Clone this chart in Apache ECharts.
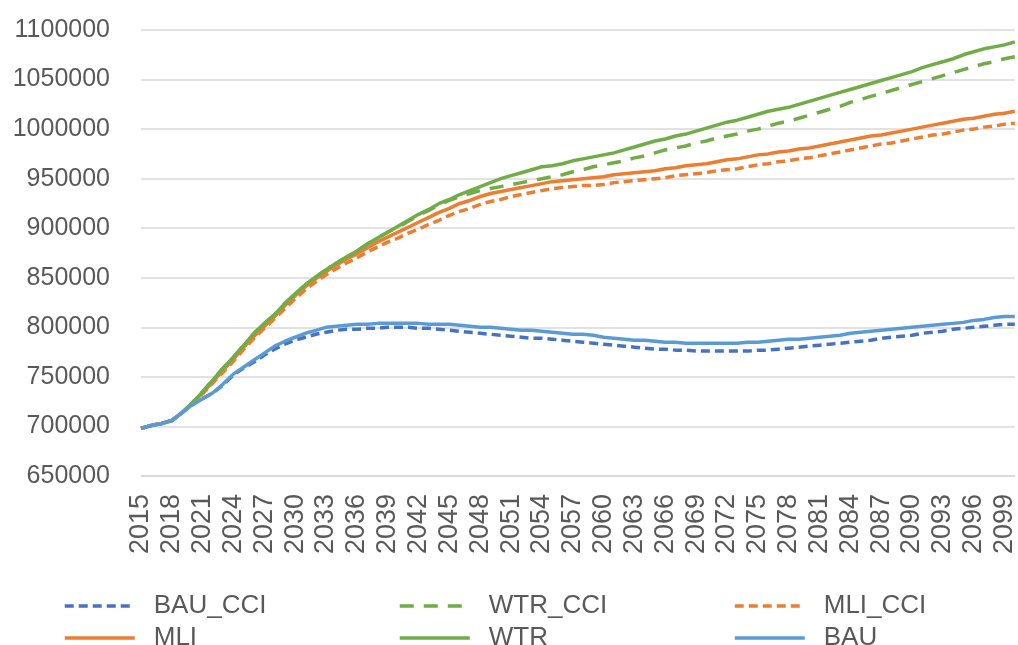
<!DOCTYPE html>
<html>
<head>
<meta charset="utf-8">
<script src="https://cdn.jsdelivr.net/npm/echarts@6/dist/echarts.min.js"></script>
<style>html,body{margin:0;padding:0;background:#fff;}#c{width:1018px;height:645px;}</style>
</head>
<body>
<div id="c"></div>
<script>
const years = [];
for (let y = 2015; y <= 2100; y++) years.push(String(y));

const yTicks = { min: 650000, max: 1100000, interval: 50000 };

const BAU_CCI = [698000,701000,703000,706000,714000,722000,728000,734000,742000,752000,
759000,765000,772000,778000,783000,787000,790000,793000,795000,797000,
798000,798000,799000,799000,800000,800000,800000,799000,799000,798000,
797000,796000,795000,794000,793000,792000,791000,790000,789000,789000,
788000,787000,786000,785000,784000,783000,782000,781000,780000,779000,
778000,778000,777000,777000,776000,776000,776000,776000,776000,776000,
777000,777000,778000,779000,780000,781000,782000,783000,784000,785000,
786000,787000,789000,790000,791000,792000,794000,795000,796000,798000,
799000,800000,801000,802000,803000,803000];

const WTR_CCI = [698000,701000,703000,706000,714000,724000,735000,747000,759000,770000,
782000,794000,804000,813000,824000,834000,843000,851000,858000,865000,
871000,877000,884000,890000,896000,901000,907000,913000,918000,924000,
928000,932000,935000,938000,940000,942000,944000,946000,948000,950000,
952000,954000,957000,959000,962000,964000,966000,968000,971000,973000,
976000,979000,981000,983000,986000,988000,991000,993000,995000,998000,
1000000,1003000,1006000,1008000,1011000,1014000,1017000,1020000,1023000,1027000,
1030000,1033000,1036000,1039000,1042000,1045000,1048000,1051000,1054000,1057000,
1060000,1063000,1066000,1068000,1071000,1073000];

const MLI_CCI = [698000,701000,703000,706000,714000,723000,733000,744000,755000,766000,
778000,789000,799000,809000,819000,829000,838000,846000,853000,859000,
865000,870000,876000,881000,886000,890000,895000,899000,904000,908000,
913000,917000,920000,924000,927000,929000,932000,934000,936000,938000,
940000,941000,942000,943000,943000,944000,946000,947000,948000,949000,
950000,951000,953000,954000,955000,956000,958000,959000,960000,962000,
964000,965000,967000,968000,970000,971000,973000,975000,977000,979000,
981000,983000,985000,986000,988000,990000,992000,994000,995000,997000,
999000,1000000,1002000,1003000,1005000,1006000];

const MLI = [698000,701000,703000,706000,714000,723000,734000,745000,757000,768000,
780000,791000,801000,811000,822000,832000,841000,849000,856000,863000,
869000,874000,880000,886000,891000,896000,901000,906000,911000,916000,
920000,925000,928000,932000,935000,937000,939000,941000,943000,945000,
947000,948000,949000,950000,951000,952000,954000,955000,956000,957000,
958000,960000,961000,963000,964000,965000,967000,969000,970000,972000,
974000,975000,977000,978000,980000,981000,983000,985000,987000,989000,
991000,993000,994000,996000,998000,1000000,1002000,1004000,1006000,1008000,
1010000,1011000,1013000,1015000,1016000,1018000];

const WTR = [698000,701000,703000,706000,714000,724000,735000,747000,759000,770000,
782000,794000,804000,813000,824000,834000,843000,851000,858000,865000,
871000,877000,884000,890000,896000,902000,908000,914000,919000,925000,
929000,934000,938000,942000,946000,950000,953000,956000,959000,962000,
963000,965000,968000,970000,972000,974000,976000,979000,982000,985000,
988000,990000,993000,995000,998000,1001000,1004000,1007000,1009000,1012000,
1015000,1018000,1020000,1022000,1025000,1028000,1031000,1034000,1037000,1040000,
1043000,1046000,1049000,1052000,1055000,1058000,1062000,1065000,1068000,1071000,
1075000,1078000,1081000,1083000,1085000,1088000];

const BAU = [698000,701000,703000,706000,714000,722000,728000,734000,743000,753000,
760000,767000,774000,781000,786000,790000,794000,797000,800000,801000,
802000,803000,803000,804000,804000,804000,804000,804000,803000,803000,
803000,802000,801000,800000,800000,799000,798000,797000,797000,796000,
795000,794000,793000,793000,792000,790000,789000,788000,787000,787000,
786000,785000,785000,784000,784000,784000,784000,784000,784000,785000,
785000,786000,787000,788000,788000,789000,790000,791000,792000,794000,
795000,796000,797000,798000,799000,800000,801000,802000,803000,804000,
805000,807000,808000,810000,811000,811000];

const seriesNames = ['BAU_CCI','WTR_CCI','MLI_CCI','MLI','WTR','BAU'];
const seriesData = [BAU_CCI, WTR_CCI, MLI_CCI, MLI, WTR, BAU];
const colors = ['#4472C4','#70AD47','#ED7D31','#ED7D31','#70AD47','#5B9BD5'];
const dashes = [[9,5],[14,10],[9,5],'solid','solid','solid'];

const FONT = '"Liberation Sans", Arial, sans-serif';
const TXT = '#595959';

const chart = echarts.init(document.getElementById('c'), null, {renderer:'canvas'});

function legendCol(names, left) {
  return {
    orient: 'vertical',
    left: left,
    top: 593,
    height: 80,
    padding: 0,
    itemWidth: 70,
    itemHeight: 14,
    itemGap: 6,
    data: names,
    itemStyle: { opacity: 0, borderWidth: 0 },
    lineStyle: { width: 3.5 },
    textStyle: { fontFamily: FONT, fontSize: 26, lineHeight: 26, color: TXT, padding: [0,0,0,14] }
  };
}

chart.setOption({
  animation: false,
  backgroundColor: '#ffffff',
  grid: { left: 141, right: 2, top: 30, bottom: 169, containLabel: false },
  legend: [
    legendCol(['BAU_CCI','MLI'], 63),
    legendCol(['WTR_CCI','WTR'], 398),
    legendCol(['MLI_CCI','BAU'], 733)
  ],
  xAxis: {
    type: 'category',
    data: years,
    boundaryGap: false,
    axisLine: { show: true, lineStyle: { color: '#d9d9d9', width: 1.5 } },
    axisTick: { show: false },
    splitLine: { show: false },
    axisLabel: { interval: 2, rotate: 90, margin: 18, fontFamily: FONT, fontSize: 27, color: TXT }
  },
  yAxis: {
    type: 'value',
    min: yTicks.min, max: yTicks.max, interval: yTicks.interval,
    axisLine: { show: false },
    axisTick: { show: false },
    splitLine: { lineStyle: { color: '#d9d9d9', width: 1.5 } },
    axisLabel: { margin: 31, fontFamily: FONT, fontSize: 25, color: TXT, formatter: v => String(v) }
  },
  series: seriesNames.map((n, i) => ({
    name: n,
    type: 'line',
    data: seriesData[i],
    symbol: 'none',
    showSymbol: false,
    smooth: false,
    color: colors[i],
    lineStyle: { color: colors[i], width: 3.5, type: dashes[i], cap: 'butt' }
  }))
});
</script>
</body>
</html>
